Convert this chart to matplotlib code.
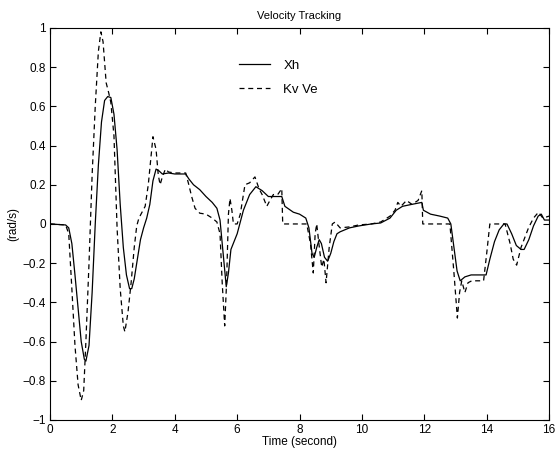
import matplotlib
matplotlib.use('Agg')
from matplotlib import pyplot as plt

plt.rcParams['font.family'] = ['Liberation Sans', 'DejaVu Sans']

# Xh (solid)
xh_t = [0, 0.5, 0.6, 0.7, 0.8, 0.9, 1.0, 1.1, 1.15, 1.25, 1.35, 1.45, 1.55, 1.65,
        1.75, 1.85, 1.95, 2.05, 2.15, 2.25, 2.35, 2.45, 2.55, 2.62, 2.7, 2.8, 2.9,
        3.0, 3.1, 3.2, 3.3, 3.4, 3.5, 3.6, 3.8, 4.0, 4.2, 4.35, 4.45, 4.6, 4.8, 5.0,
        5.2, 5.35, 5.45, 5.55, 5.65, 5.72, 5.8, 6.0, 6.2, 6.4, 6.6, 6.8, 7.0, 7.2,
        7.43, 7.53, 7.8, 8.0, 8.2, 8.3, 8.4, 8.47, 8.55, 8.63, 8.7, 8.8, 8.9, 9.0,
        9.1, 9.2, 9.3, 9.6, 9.9, 10.3, 10.6, 10.9, 11.1, 11.3, 11.6, 11.92, 11.97,
        12.2, 12.5, 12.75, 12.85, 12.95, 13.05, 13.15, 13.3, 13.5, 13.98, 14.1,
        14.25, 14.4, 14.55, 14.65, 14.8, 14.95, 15.1, 15.2, 15.35, 15.5, 15.65,
        15.75, 15.85, 16.0]
xh_v = [0.0, -0.005, -0.02, -0.1, -0.26, -0.43, -0.6, -0.69, -0.70, -0.62, -0.35,
        0.0, 0.3, 0.52, 0.63, 0.65, 0.645, 0.56, 0.38, 0.1, -0.12, -0.26, -0.33,
        -0.33, -0.28, -0.18, -0.08, -0.02, 0.03, 0.1, 0.22, 0.28, 0.27, 0.255,
        0.26, 0.255, 0.255, 0.255, 0.23, 0.2, 0.175, 0.14, 0.11, 0.08, 0.02,
        -0.15, -0.32, -0.25, -0.13, -0.05, 0.07, 0.15, 0.19, 0.17, 0.14, 0.14,
        0.14, 0.09, 0.06, 0.05, 0.03, -0.02, -0.15, -0.17, -0.12, -0.08, -0.1,
        -0.17, -0.19, -0.15, -0.09, -0.05, -0.04, -0.02, -0.01, 0.0, 0.005, 0.03,
        0.07, 0.09, 0.10, 0.11, 0.07, 0.05, 0.04, 0.03, 0.0, -0.12, -0.24, -0.29,
        -0.27, -0.26, -0.26, -0.18, -0.09, -0.03, 0.0, 0.0, -0.05, -0.11, -0.13,
        -0.13, -0.08, -0.01, 0.04, 0.05, 0.02, 0.02]

# Kv Ve (dashed)
kv_t = [0, 0.5, 0.6, 0.7, 0.8, 0.9, 1.0, 1.08, 1.15, 1.25, 1.35, 1.45, 1.55, 1.63,
        1.7, 1.8, 1.88, 1.95, 2.05, 2.15, 2.25, 2.35, 2.4, 2.5, 2.6, 2.7, 2.78,
        2.85, 2.95, 3.05, 3.15, 3.3, 3.4, 3.47, 3.53, 3.6, 3.7, 3.8, 4.0, 4.35,
        4.45, 4.54, 4.65, 4.8, 5.0, 5.2, 5.35, 5.45, 5.52, 5.6, 5.66, 5.72, 5.77,
        5.83, 5.88, 6.0, 6.1, 6.25, 6.4, 6.57, 6.7, 6.8, 6.95, 7.05, 7.16, 7.3,
        7.43, 7.46, 7.8, 8.23, 8.35, 8.44, 8.5, 8.55, 8.62, 8.71, 8.78, 8.85,
        8.95, 9.05, 9.14, 9.3, 9.6, 9.9, 10.3, 10.6, 10.9, 11.06, 11.15, 11.25,
        11.43, 11.6, 11.8, 11.92, 11.95, 12.5, 12.82, 12.95, 13.06, 13.13, 13.2,
        13.3, 13.4, 13.52, 13.9, 14.0, 14.1, 14.59, 14.75, 14.85, 14.96, 15.1,
        15.34, 15.5, 15.66, 15.8, 16.0]
kv_v = [0.0, -0.005, -0.05, -0.33, -0.62, -0.82, -0.90, -0.85, -0.6, -0.2, 0.25,
        0.6, 0.88, 0.98, 0.93, 0.72, 0.67, 0.62, 0.45, -0.02, -0.33, -0.52, -0.55,
        -0.45, -0.3, -0.12, -0.01, 0.03, 0.06, 0.09, 0.2, 0.445, 0.38, 0.25, 0.2,
        0.24, 0.28, 0.265, 0.26, 0.26, 0.2, 0.14, 0.08, 0.055, 0.05, 0.03, 0.01,
        -0.05, -0.3, -0.52, -0.3, 0.05, 0.13, 0.07, 0.0, 0.0, 0.05, 0.2, 0.21,
        0.24, 0.18, 0.15, 0.09, 0.12, 0.15, 0.15, 0.18, 0.0, 0.0, 0.0, -0.1,
        -0.25, -0.05, 0.0, -0.1, -0.22, -0.18, -0.30, -0.12, 0.0, 0.01, -0.02,
        -0.015, -0.005, 0.0, 0.01, 0.04, 0.07, 0.11, 0.09, 0.12, 0.10, 0.12,
        0.17, 0.0, 0.0, 0.0, -0.25, -0.48, -0.35, -0.29, -0.35, -0.3, -0.29,
        -0.29, -0.15, 0.0, 0.0, -0.1, -0.18, -0.21, -0.12, -0.02, 0.03, 0.06,
        0.03, 0.04]

x_ticks = list(range(0, 17, 2))
y_ticks = [-1, -0.8, -0.6, -0.4, -0.2, 0, 0.2, 0.4, 0.6, 0.8, 1]
y_tick_labels = ['\u22121', '\u22120.8', '\u22120.6', '\u22120.4', '\u22120.2', '0',
                 '0.2', '0.4', '0.6', '0.8', '1']

fig = plt.figure(figsize=(5.57, 4.58), dpi=100)
ax = fig.add_axes([0.0898, 0.083, 0.896, 0.856])

ax.plot(xh_t, xh_v, color='black', linewidth=0.9, label='Xh')
ax.plot(kv_t, kv_v, color='black', linewidth=0.9, linestyle=(0, (4, 3)), label='Kv Ve')

ax.set_xlim(0, 16)
ax.set_ylim(-1, 1)
ax.set_xticks(x_ticks)
ax.set_xticklabels([str(t) for t in x_ticks])
ax.set_yticks(y_ticks)
ax.set_yticklabels(y_tick_labels)
ax.tick_params(direction='in', top=True, right=True, labelsize=8.5, length=4, pad=3)
for s in ax.spines.values():
    s.set_linewidth(0.8)

ax.set_title('Velocity Tracking', fontsize=8, pad=6.5)
ax.set_xlabel('Time (second)', fontsize=8.5, labelpad=0)
ax.set_ylabel('(rad/s)', fontsize=8.5, labelpad=2)

ax.legend(loc='upper left', bbox_to_anchor=(0.355, 0.95), frameon=False,
          fontsize=9.5, handlelength=2.35, handletextpad=1.0, labelspacing=0.9)

fig.savefig('out.png', dpi=100)
